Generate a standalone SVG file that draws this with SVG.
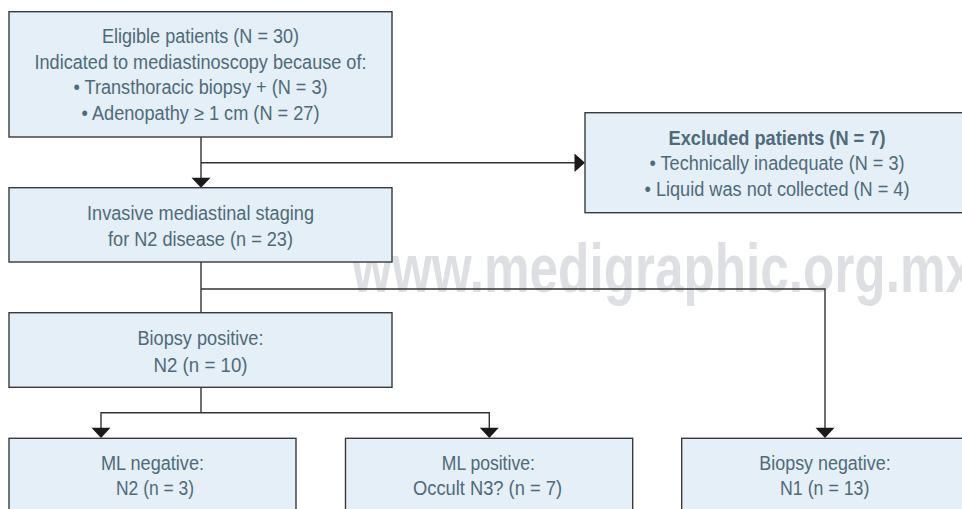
<svg xmlns="http://www.w3.org/2000/svg" width="962" height="509" viewBox="0 0 962 509">
<style>
.box{fill:#e4eff7;stroke:#3a3a3a;stroke-width:1.4}
.t{font-family:"Liberation Sans",Arial,sans-serif;font-size:19.5px;fill:#4f6a79;text-anchor:middle}
.b{font-weight:bold}
.ln{fill:none;stroke:#333;stroke-width:1.4}
.ah{fill:#1a1a1a}
.wm{font-family:"Liberation Sans",Arial,sans-serif;font-weight:bold;font-size:69px;fill:#dedfe3}
</style>
<rect width="962" height="509" fill="#fff"/>
<text class="wm" x="352" y="292" textLength="622" lengthAdjust="spacingAndGlyphs">www.medigraphic.org.mx</text>
<g id="connectors">
<path class="ln" d="M201 137V178M201 162.7H575"/>
<path class="ah" d="M191.5 177.7H210.5L201 187.7Z"/>
<path class="ah" d="M574.5 153.5L585 162.7L574.5 172Z"/>
<path class="ln" d="M201 262V312.7M201 289H825V428"/>
<path class="ah" d="M815.5 427.7H834.5L825 438Z"/>
<path class="ln" d="M201 387.3V412.7M101 428V412.7H489.3V428"/>
<path class="ah" d="M91.5 427.7H110.5L101 438Z"/>
<path class="ah" d="M479.8 427.7H498.8L489.3 438Z"/>
</g>
<g id="eligible">
<rect class="box" x="9" y="11.7" width="383" height="125.3"/>
<text class="t" x="200.5" y="43" textLength="197" lengthAdjust="spacingAndGlyphs">Eligible patients (N = 30)</text>
<text class="t" x="200.5" y="68.5" textLength="332" lengthAdjust="spacingAndGlyphs">Indicated to mediastinoscopy because of:</text>
<text class="t" x="200.5" y="94" textLength="254" lengthAdjust="spacingAndGlyphs">• Transthoracic biopsy + (N = 3)</text>
<text class="t" x="200.5" y="119.5" textLength="238" lengthAdjust="spacingAndGlyphs">• Adenopathy ≥ 1 cm (N = 27)</text>
</g>
<g id="excluded">
<rect class="box" x="585" y="112.7" width="384" height="100"/>
<text class="t b" x="777" y="145" textLength="217" lengthAdjust="spacingAndGlyphs">Excluded patients (N = 7)</text>
<text class="t" x="777" y="170" textLength="255" lengthAdjust="spacingAndGlyphs">• Technically inadequate (N = 3)</text>
<text class="t" x="777" y="195.5" textLength="265" lengthAdjust="spacingAndGlyphs">• Liquid was not collected (N = 4)</text>
</g>
<g id="invasive">
<rect class="box" x="9" y="187.7" width="383" height="74.3"/>
<text class="t" x="200.5" y="220" textLength="227" lengthAdjust="spacingAndGlyphs">Invasive mediastinal staging</text>
<text class="t" x="200.5" y="246" textLength="185" lengthAdjust="spacingAndGlyphs">for N2 disease (n = 23)</text>
</g>
<g id="biopsy-positive">
<rect class="box" x="9" y="312.7" width="383" height="74.6"/>
<text class="t" x="200.5" y="345" textLength="126" lengthAdjust="spacingAndGlyphs">Biopsy positive:</text>
<text class="t" x="200.5" y="371.5" textLength="94" lengthAdjust="spacingAndGlyphs">N2 (n = 10)</text>
</g>
<g id="ml-negative">
<rect class="box" x="9" y="438.3" width="287" height="90"/>
<text class="t" x="152.5" y="469.5" textLength="103" lengthAdjust="spacingAndGlyphs">ML negative:</text>
<text class="t" x="155" y="495" textLength="78" lengthAdjust="spacingAndGlyphs">N2 (n = 3)</text>
</g>
<g id="ml-positive">
<rect class="box" x="345.5" y="438.3" width="287.2" height="90"/>
<text class="t" x="488.3" y="469.5" textLength="93" lengthAdjust="spacingAndGlyphs">ML positive:</text>
<text class="t" x="487.5" y="495" textLength="149" lengthAdjust="spacingAndGlyphs">Occult N3? (n = 7)</text>
</g>
<g id="biopsy-negative">
<rect class="box" x="681.7" y="438.3" width="286" height="90"/>
<text class="t" x="825" y="469.5" textLength="131.3" lengthAdjust="spacingAndGlyphs">Biopsy negative:</text>
<text class="t" x="824.7" y="495" textLength="89.3" lengthAdjust="spacingAndGlyphs">N1 (n = 13)</text>
</g>
</svg>
